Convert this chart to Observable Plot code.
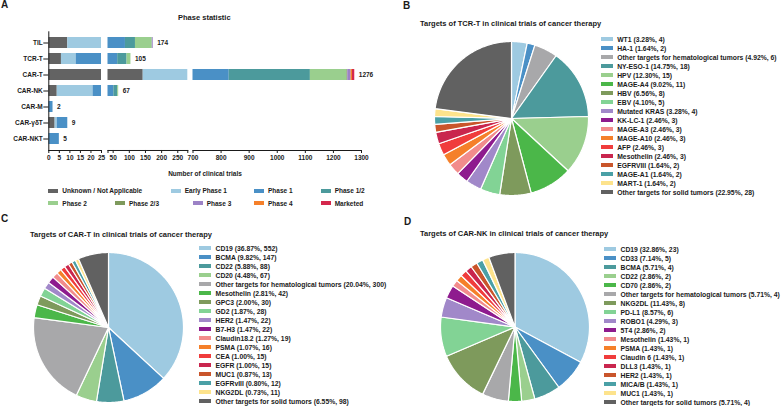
<!DOCTYPE html>
<html><head><meta charset="utf-8">
<script src="https://cdn.jsdelivr.net/npm/d3@7"></script>
<script src="https://cdn.jsdelivr.net/npm/@observablehq/plot@0.6"></script>
<style>
body{margin:0;background:#fff;}
#fig{position:relative;width:784px;height:406px;overflow:hidden;font-family:'Liberation Sans',Arial,sans-serif;color:#1a1a1a;background:#fff;}
.t{position:absolute;font-weight:bold;line-height:1;white-space:nowrap;color:#1a1a1a;}
.lg-swatches{font:bold 6.8px 'Liberation Sans',Arial,sans-serif !important;margin:0 !important;color:#1a1a1a;}
.lg-swatch{padding-bottom:0 !important;height:9px;line-height:9px;}
.lg-swatch > svg{margin-right:4.5px !important;}
.lg-swatch-label{overflow:visible !important;text-overflow:clip !important;}
.pl{position:absolute;display:flex;align-items:center;height:10px;font:bold 6.5px 'Liberation Sans',Arial,sans-serif;white-space:nowrap;color:#1a1a1a;}
.pl span.sw{display:inline-block;width:10px;height:4px;margin-right:4px;}
</style></head><body><div id="fig"></div><script>
// ---------- Panel A data ----------
const therapies = ["TIL","TCR-T","CAR-T","CAR-NK","CAR-M","CAR-γδT","CAR-NKT"];
const phases = ["Unknown / Not Applicable","Early Phase 1","Phase 1","Phase 1/2","Phase 2","Phase 2/3","Phase 3","Phase 4","Marketed"];
const phaseColors = ["#636363","#9ecae1","#4a90c6","#4c9a9c","#9acf8e","#7e9a5c","#9c82c6","#f5802a","#d4284c"];
// counts in phase order
const trialsTIL    = [9,21,58,31,52,0,3,0,0];
const trialsTCRT   = [6,7,51,29,12,0,0,0,0];
const trialsCART   = [143,157,529,289,130,3,12,5,8];
const trialsCARNK  = [4,17,31,12,3,0,0,0,0];
const trialsCARM   = [0,0,2,0,0,0,0,0,0];
const trialsCARgdT = [3,1,5,0,0,0,0,0,0];
const trialsCARNKT = [0,0,5,0,0,0,0,0,0];
const xTicks1 = [0,5,10,15,20,25];
const xTicks2 = [50,100,150,200,250];
const xTicks3 = [700,800,900,1000,1100,1200,1300];

// ---------- Panel B data ----------
const tcrTargets = ["WT1","HA-1","Other targets for hematological tumors","NY-ESO-1","HPV","MAGE-A4","HBV","EBV","Mutated KRAS","KK-LC-1","MAGE-A3","MAGE-A10","AFP","Mesothelin","EGFRVIII","MAGE-A1","MART-1","Other targets for solid tumors"];
const tcrCounts = [4,2,6,18,15,11,8,5,4,3,3,3,3,3,2,2,2,28];
// ---------- Panel C data ----------
const cartTargets = ["CD19","BCMA","CD22","CD20","Other targets for hematological tumors","Mesothelin","GPC3","GD2","HER2","B7-H3","Claudin18.2","PSMA","CEA","EGFR","MUC1","EGFRvIII","NKG2DL","Other targets for solid tumors"];
const cartCounts = [552,147,88,67,300,42,30,28,22,22,19,16,15,15,13,12,11,98];
// ---------- Panel D data ----------
const carnkTargets = ["CD19","CD33","BCMA","CD22","CD70","Other targets for hematological tumors","NKG2DL","PD-L1","ROBO1","5T4","Mesothelin","PSMA","Claudin 6","DLL3","HER2","MICA/B","MUC1","Other targets for solid tumors"];
const carnkCounts = [23,5,4,2,2,4,8,6,3,2,1,1,1,1,1,1,1,4];

// palette (styles)
const pal = {lb:"#9ecae1", bl:"#4a90c6", tl:"#4c9a9c", lg:"#9acf8e", gr:"#4bb749", gy:"#a8a8aa", ol:"#7e9a5c", mt:"#82d395", lv:"#a188c9", pu:"#8e1b8e", pk:"#f28c8c", or:"#f5802a", rd:"#f03c3c", cr:"#c9264e", rs:"#c9552b", t2:"#4aa0a6", yl:"#fde38c", dg:"#616161"};
const tcrColors   = [pal.lb,pal.bl,pal.gy,pal.tl,pal.lg,pal.gr,pal.ol,pal.mt,pal.lv,pal.pu,pal.pk,pal.or,pal.rd,pal.cr,pal.rs,pal.t2,pal.yl,pal.dg];
const cartColors  = [pal.lb,pal.bl,pal.tl,pal.lg,pal.gy,pal.gr,pal.ol,pal.mt,pal.lv,pal.pu,pal.pk,pal.or,pal.rd,pal.cr,pal.rs,pal.t2,pal.yl,pal.dg];
const carnkColors = [pal.lb,pal.bl,pal.tl,pal.lg,pal.gr,pal.gy,pal.ol,pal.mt,pal.lv,pal.pu,pal.pk,pal.or,pal.rd,pal.cr,pal.rs,pal.t2,pal.yl,pal.dg];

const fig = document.getElementById("fig");
function place(el, left, top) { el.style.position = "absolute"; el.style.left = left + "px"; el.style.top = top + "px"; fig.appendChild(el); return el; }
function text(str, size, left, baseline, center) {
  const d = document.createElement("div"); d.className = "t"; d.textContent = str;
  d.style.fontSize = size + "px";
  place(d, left, baseline - 0.8465 * size);
  if (center) d.style.transform = "translateX(-50%)";
  return d;
}
const svgStyle = {fontFamily: "'Liberation Sans', Arial, sans-serif", fontSize: "6.5px", fontWeight: "bold", color: "#1a1a1a", background: "transparent", overflow: "visible", maxWidth: "none"};

// ---------- Panel A ----------
const countsByTherapy = [trialsTIL, trialsTCRT, trialsCART, trialsCARNK, trialsCARM, trialsCARgdT, trialsCARNKT];
const rows = therapies.flatMap((t, i) => phases.map((p, j) => ({therapy: t, phase: p, n: countsByTherapy[i][j]}))).filter(d => d.n > 0);
const totals = therapies.map((t, i) => ({therapy: t, total: d3.sum(countsByTherapy[i])}));

const segs = [
  {domain: [0, 25], ticks: xTicks1, left: 0, ml: 48.3, w: 52.7, mr: 3, first: true},
  {domain: [34, 281], ticks: [34, ...xTicks2, 281], left: 104, ml: 3.5, w: 79.8, mr: 2, first: false},
  {domain: [700, 1300], ticks: xTicks3, left: 190, ml: 2.5, w: 168.5, mr: 30, first: false}
];
segs.forEach(seg => {
  const [lo, hi] = seg.domain;
  const p = Plot.plot({
    width: seg.ml + seg.w + seg.mr, height: 172,
    marginLeft: seg.ml, marginRight: seg.mr, marginTop: 31.3, marginBottom: 22,
    x: {domain: seg.domain, axis: null},
    y: {domain: therapies, padding: 0.3, axis: null},
    color: {domain: phases, range: phaseColors},
    style: svgStyle,
    marks: [
      Plot.barX(rows, Plot.stackX({x: "n", y: "therapy", fill: "phase", clip: true})),
      Plot.text(totals.filter(d => d.total >= lo && d.total <= hi), {x: "total", y: "therapy", text: d => String(d.total), textAnchor: "start", dx: 4}),
      Plot.axisX({ticks: seg.ticks, tickSize: 3, tickPadding: 2, label: null, tickFormat: d => (d === 34 || d === 281) ? "" : String(d)}),
      seg.first ? Plot.axisY({tickSize: 5, tickPadding: 1, label: null}) : null,
      Plot.frame({anchor: "bottom"}),
      seg.first ? Plot.frame({anchor: "left"}) : null
    ]
  });
  place(p, seg.left, 0);
});
text("Phase statistic", 7.5, 204.3, 20.4, true);
text("Number of clinical trials", 6.5, 205, 176.3, true);
const phaseLegendPos = [[48.3,190.7],[170.7,190.7],[254,190.7],[320.7,190.7],[48.3,203],[115,203],[192.7,203],[254,203],[320.7,203]];
phases.forEach((p, i) => {
  const d = document.createElement("div"); d.className = "pl";
  const s = document.createElement("span"); s.className = "sw"; s.style.background = phaseColors[i];
  d.appendChild(s); d.appendChild(document.createTextNode(p));
  place(d, phaseLegendPos[i][0], phaseLegendPos[i][1] - 5);
});

// ---------- Pies ----------
function pctLabels(names, counts) {
  const tot = d3.sum(counts);
  return names.map((n, i) => `${n} (${(counts[i] / tot * 100).toFixed(2)}%, ${counts[i]})`);
}
function piePlot(counts, labels, colors, r) {
  const arcs = d3.pie().sort(null).value(d => d)(counts);
  const pts = [];
  arcs.forEach((a, i) => {
    const lab = labels[i];
    pts.push({lab, x: 0, y: 0});
    const n = Math.max(2, Math.ceil((a.endAngle - a.startAngle) / (Math.PI / 180)));
    for (let k = 0; k <= n; k++) {
      const t = a.startAngle + (a.endAngle - a.startAngle) * k / n;
      pts.push({lab, x: Math.sin(t), y: Math.cos(t)});
    }
    pts.push({lab, x: 0, y: 0});
  });
  const m = 2;
  return Plot.plot({
    width: 2 * r + 2 * m, height: 2 * r + 2 * m, margin: m,
    x: {domain: [-1, 1], axis: null}, y: {domain: [-1, 1], axis: null},
    color: {domain: labels, range: colors},
    style: svgStyle,
    marks: [Plot.line(pts, {x: "x", y: "y", z: "lab", fill: "lab", stroke: "white", strokeWidth: 1.2, strokeLinejoin: "miter"})]
  });
}
function pieLegend(labels, colors) {
  return Plot.legend({color: {type: "ordinal", domain: labels, range: colors}, legend: "swatches", columns: 1, swatchWidth: 12, swatchHeight: 4, className: "lg"});
}
function pieLegendBox(labels, colors, left, top, width) {
  const wrap = document.createElement("div"); wrap.style.width = width + "px";
  wrap.appendChild(pieLegend(labels, colors));
  place(wrap, left, top);
}

// B
const tcrLabels = pctLabels(tcrTargets, tcrCounts);
place(piePlot(tcrCounts, tcrLabels, tcrColors, 77), 511.3 - 79, 118.3 - 79);
pieLegendBox(tcrLabels, tcrColors, 600.7, 34.5, 180);
text("Targets of TCR-T in clinical trials of cancer therapy", 7.5, 420, 26.8);
// C
const cartLabels = pctLabels(cartTargets, cartCounts);
place(piePlot(cartCounts, cartLabels, cartColors, 75), 108 - 77, 326.5 - 77);
pieLegendBox(cartLabels, cartColors, 199, 243.8, 190);
text("Targets of CAR-T in clinical trials of cancer therapy", 7.5, 30, 237);
// D
const carnkLabels = pctLabels(carnkTargets, carnkCounts);
place(piePlot(carnkCounts, carnkLabels, carnkColors, 74.5), 514.3 - 76.5, 326.3 - 76.5);
pieLegendBox(carnkLabels, carnkColors, 604, 244.5, 178);
text("Targets of CAR-NK in clinical trials of cancer therapy", 7.5, 420, 236.4);

// panel letters
text("A", 10, 1, 8.3);
text("B", 10, 403, 9);
text("C", 10, 1, 222.7);
text("D", 10, 404, 225.7);
</script></body></html>
